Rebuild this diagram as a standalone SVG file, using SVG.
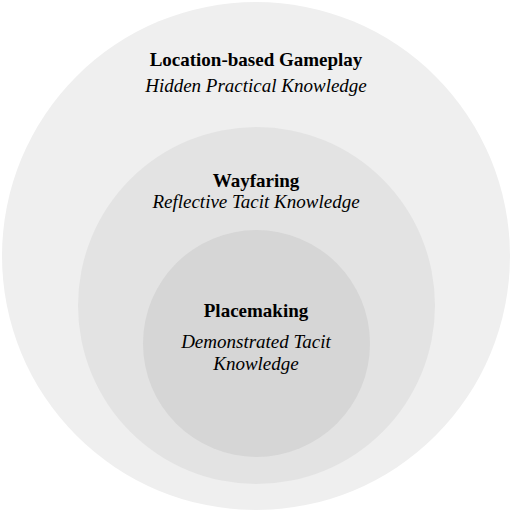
<svg xmlns="http://www.w3.org/2000/svg" width="512" height="511" viewBox="0 0 512 511">
<style>
.t{font-family:"Liberation Serif","Times New Roman",serif;font-size:19px;fill:#000;text-anchor:middle}
.b{font-weight:bold}
.i{font-style:italic}
</style>
<rect width="512" height="511" fill="#ffffff"/>
<g id="outer">
<circle cx="256" cy="256" r="254" fill="#efefef"/>
<text class="t b" x="256" y="66">Location-based Gameplay</text>
<text class="t i" x="256" y="92">Hidden Practical Knowledge</text>
</g>
<g id="middle">
<circle cx="256.5" cy="305.5" r="178.5" fill="#e3e3e3"/>
<text class="t b" x="256" y="187">Wayfaring</text>
<text class="t i" x="256" y="208">Reflective Tacit Knowledge</text>
</g>
<g id="inner">
<circle cx="256.5" cy="343.5" r="113.5" fill="#d6d6d6"/>
<text class="t b" x="256" y="317">Placemaking</text>
<text class="t i" x="256" y="348">Demonstrated Tacit</text>
<text class="t i" x="256" y="370">Knowledge</text>
</g>
<g id="connectors"/>
</svg>
